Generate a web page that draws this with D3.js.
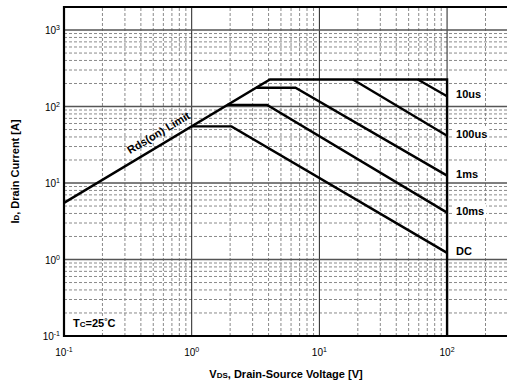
<!DOCTYPE html>
<html>
<head>
<meta charset="utf-8">
<script src="https://cdn.jsdelivr.net/npm/d3@7"></script>
<style>
  html, body { margin: 0; padding: 0; background: #fff; }
  svg { display: block; font-family: Arial, "Liberation Sans", sans-serif; }
</style>
</head>
<body>
<svg id="chart" width="507" height="388"></svg>
<script>
// Safe operating area: drain current vs drain-source voltage (log-log)
const curveNames = ["10us", "100us", "1ms", "10ms", "DC"];
const curveV = [[59, 100], [18.3, 100], [3.2, 6.5, 100], [1.9, 3.9, 100], [1, 2.05, 100]];
const curveI = [[226, 136], [226, 41.6], [176, 176, 12.5], [105, 105, 4.1], [55, 55, 1.22]];

// Outer envelope: Rds(on) limit, current limit, voltage limit
const envelopeV = [0.1, 4.1, 100, 100];
const envelopeI = [5.5, 226, 226, 0.1];

const xTickExps = [-1, 0, 1, 2];
const yTickExps = [-1, 0, 1, 2, 3];
const xDomain = [0.1, 300];
const yDomain = [0.1, 2000];

const svg = d3.select("#chart");
const m = { left: 64, right: 0, top: 7, bottom: 52 };
const W = 507, H = 388;

const x = d3.scaleLog().domain(xDomain).range([m.left, 508]);
const y = d3.scaleLog().domain(yDomain).range([H - m.bottom, m.top]);

const gGrid = svg.append("g");

// minor grid values per decade
function minors(lo, hi) {
  const out = [];
  for (let e = Math.floor(Math.log10(lo)); e <= Math.ceil(Math.log10(hi)); e++) {
    for (let k = 2; k <= 9; k++) {
      const v = k * Math.pow(10, e);
      if (v > lo && v < hi) out.push(v);
    }
  }
  return out;
}

const x0 = x.range()[0], x1 = x.range()[1];
const y0 = y.range()[0], y1 = y.range()[1];

// minor vertical
gGrid.selectAll(".mvx").data(minors(xDomain[0], xDomain[1])).join("line")
  .attr("x1", d => x(d)).attr("x2", d => x(d)).attr("y1", y0).attr("y2", y1)
  .attr("stroke", "#8a8a8a").attr("stroke-width", 1).attr("stroke-dasharray", "3,2");
// minor horizontal
gGrid.selectAll(".mhy").data(minors(yDomain[0], yDomain[1])).join("line")
  .attr("y1", d => y(d)).attr("y2", d => y(d)).attr("x1", x0).attr("x2", x1)
  .attr("stroke", "#8a8a8a").attr("stroke-width", 1).attr("stroke-dasharray", "3,2");
// major vertical
gGrid.selectAll(".MVX").data(xTickExps.slice(1).map(e => Math.pow(10, e))).join("line")
  .attr("x1", d => x(d)).attr("x2", d => x(d)).attr("y1", y0).attr("y2", y1)
  .attr("stroke", "#222").attr("stroke-width", 1);
// major horizontal
gGrid.selectAll(".MHY").data(yTickExps.slice(1).map(e => Math.pow(10, e))).join("line")
  .attr("y1", d => y(d)).attr("y2", d => y(d)).attr("x1", x0).attr("x2", x1)
  .attr("stroke", "#555").attr("stroke-width", 1.5);

// axes frame (left, top, bottom)
svg.append("path")
  .attr("d", `M${x1},${y1}H${x0}V${y0}H${x1}`)
  .attr("fill", "none").attr("stroke", "#000").attr("stroke-width", 2.2);

const line = d3.line().x(d => x(d[0])).y(d => y(d[1]));

// envelope
svg.append("path")
  .datum(envelopeV.map((v, i) => [v, envelopeI[i]]))
  .attr("d", line)
  .attr("fill", "none").attr("stroke", "#000").attr("stroke-width", 2.4)
  .attr("stroke-linejoin", "miter");

// pulse-width curves
svg.append("g").selectAll("path")
  .data(curveNames.map((n, k) => curveV[k].map((v, i) => [v, curveI[k][i]])))
  .join("path")
  .attr("d", line)
  .attr("fill", "none").attr("stroke", "#000").attr("stroke-width", 2.4);

// label with white backing box
function boxedText(g, tx, ty, build, anchor) {
  const grp = g.append("g");
  const rect = grp.append("rect").attr("fill", "#fff");
  const t = grp.append("text").attr("x", tx).attr("y", ty)
    .attr("text-anchor", anchor || "start")
    .attr("font-weight", "bold").attr("font-size", 11);
  build(t);
  const b = t.node().getBBox();
  rect.attr("x", b.x - 2).attr("y", b.y - 1).attr("width", b.width + 4).attr("height", b.height + 2);
  return grp;
}

const labels = svg.append("g");
curveNames.forEach((n, k) => {
  const ends = curveI[k][curveI[k].length - 1];
  boxedText(labels, x(100) + 9, y(ends) + 2, t => t.text(n));
});

// Rds(on) limit label along the slope
const ang = Math.atan2(y(1) - y(10), x(10) - x(1)) * 180 / Math.PI;
const lx = x(0.57), ly = y(55 * 0.57) - 9;
const rl = boxedText(labels, 0, 0, t => t.text("Rds(on) Limit").attr("font-size", 11), "middle");
rl.attr("transform", `translate(${lx},${ly}) rotate(${-ang})`);
rl.select("rect").remove();

// case temperature note
boxedText(labels, 73, 327, t => {
  t.append("tspan").text("T");
  t.append("tspan").text("C").attr("font-size", 8);
  t.append("tspan").text("=25");
  t.append("tspan").text("°").attr("font-size", 8).attr("dy", -3);
  t.append("tspan").text("C").attr("dy", 3);
});

// tick labels with superscript exponents
const tickG = svg.append("g").attr("font-size", 10).attr("fill", "#000");
tickG.selectAll(".xt").data(xTickExps).join("text")
  .attr("x", d => x(Math.pow(10, d))).attr("y", 356).attr("text-anchor", "middle")
  .each(function (d) {
    const t = d3.select(this);
    t.append("tspan").text("10");
    t.append("tspan").text(d).attr("font-size", 7).attr("dy", -4);
  });
tickG.selectAll(".yt").data(yTickExps).join("text")
  .attr("x", 60).attr("y", d => y(Math.pow(10, d)) + 4).attr("text-anchor", "end")
  .each(function (d) {
    const t = d3.select(this);
    t.append("tspan").text("10");
    t.append("tspan").text(d).attr("font-size", 7).attr("dy", -4);
  });

// axis titles
const xt = svg.append("text").attr("x", (x0 + x1) / 2).attr("y", 378)
  .attr("text-anchor", "middle").attr("font-weight", "bold").attr("font-size", 11);
xt.append("tspan").text("V");
xt.append("tspan").text("DS").attr("font-size", 8);
xt.append("tspan").text(", Drain-Source Voltage [V]");

const yt = svg.append("text")
  .attr("transform", `translate(19,${(y0 + y1) / 2}) rotate(-90)`)
  .attr("text-anchor", "middle").attr("font-weight", "bold").attr("font-size", 11);
yt.append("tspan").text("I");
yt.append("tspan").text("D").attr("font-size", 8);
yt.append("tspan").text(", Drain Current [A]");
</script>
</body>
</html>
